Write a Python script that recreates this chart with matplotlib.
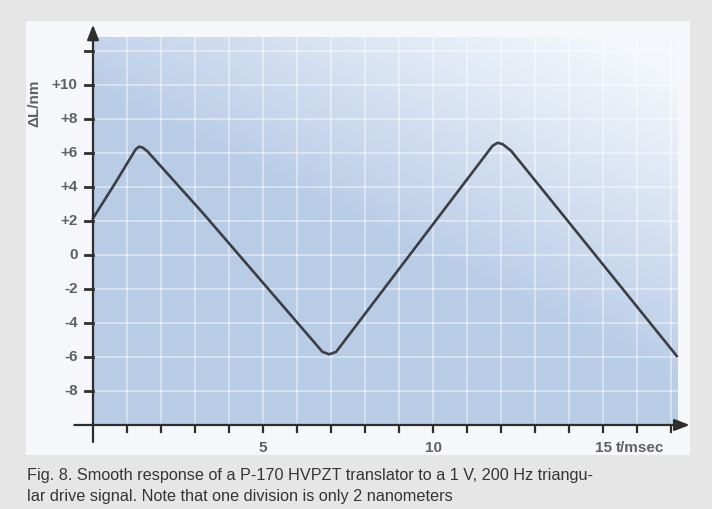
import numpy as np
import matplotlib
matplotlib.use("Agg")
import matplotlib.pyplot as plt
from matplotlib.patches import Rectangle

# ---- data ----
t_ms = [0.0, 0.65, 1.25, 1.35, 1.45, 1.6, 3.24, 6.75, 6.95, 7.15,
        11.75, 11.9, 12.05, 12.3, 13.34, 17.17]
dl_nm = [2.16, 4.22, 6.2, 6.37, 6.33, 6.1, 2.45, -5.7, -5.84, -5.7,
         6.42, 6.6, 6.52, 6.12, 3.55, -5.94]

y_ticks = [-8, -6, -4, -2, 0, 2, 4, 6, 8, 10, 12]
y_tick_labels = ["-8", "-6", "-4", "-2", "0", "+2", "+4", "+6", "+8", "+10", ""]
x_ticks = list(range(1, 18))
x_label_pos = [5, 10, 15]
x_label_txt = ["5", "10", "15"]
caption = ("Fig. 8. Smooth response of a P-170 HVPZT translator to a 1 V, 200 Hz triangu-\n"
           "lar drive signal. Note that one division is only 2 nanometers")

W, H = 712, 509
fig = plt.figure(figsize=(W / 100, H / 100), dpi=100, facecolor="#e6e6e6")

# white panel
fig.patches.append(Rectangle((26 / W, 1 - 455 / H), (690 - 26) / W, (455 - 21) / H,
                             transform=fig.transFigure, facecolor="#f5f7fa",
                             edgecolor="none", zorder=-5))

# axes mapping: x 0..17.2 -> px 93..677.8 ; y -10..12.8 -> px 425..37.4
x0, x1 = 0.0, 17.2
y0, y1 = -10.0, 12.8
px_l, px_r = 93, 93 + 34 * (x1 - x0)
py_b, py_t = 425, 425 - 17 * (y1 - y0)
ax = fig.add_axes([px_l / W, 1 - py_b / H, (px_r - px_l) / W, (py_b - py_t) / H])
ax.set_zorder(2)
ax.set_xlim(x0, x1)
ax.set_ylim(y0, y1)
ax.set_axis_off()

# blue gradient background
nx, ny = 300, 300
u = np.linspace(0, 1, nx)[None, :]
v = np.linspace(0, 1, ny)[:, None]
t = np.clip((0.75 * u + 1.0 * v - 0.85) / 0.8, 0, 1)
blue = np.array([0.725, 0.800, 0.905])
white = np.array([0.955, 0.970, 0.990])
img = blue[None, None, :] * (1 - t[..., None]) + white[None, None, :] * t[..., None]
ax.imshow(img, extent=[x0, x1, y0, y1], origin="lower", aspect="auto", zorder=0)

# grid
for xv in x_ticks:
    ax.plot([xv, xv], [y0, y1], color="white", lw=1.3, alpha=0.45, zorder=1)
for yv in y_ticks:
    ax.plot([x0, x1], [yv, yv], color="white", lw=1.3, alpha=0.45, zorder=1)

axc = "#2e2e2e"
# axes with arrows
ax.annotate("", xy=(0, 13.55), xytext=(0, -11.0),
            arrowprops=dict(arrowstyle="-|>,head_length=0.9,head_width=0.35",
                            color=axc, lw=1.6, shrinkA=0, shrinkB=0),
            annotation_clip=False, zorder=5)
ax.annotate("", xy=(17.55, -10), xytext=(-0.55, -10),
            arrowprops=dict(arrowstyle="-|>,head_length=0.9,head_width=0.35",
                            color=axc, lw=1.6, shrinkA=0, shrinkB=0),
            annotation_clip=False, zorder=5)

# ticks
for yv in y_ticks:
    ax.plot([-0.23, 0], [yv, yv], color=axc, lw=2.0, clip_on=False, zorder=5)
for xv in x_ticks:
    ax.plot([xv, xv], [-10, -10.42], color=axc, lw=1.6, clip_on=False, zorder=5)

lab_font = dict(family=["Liberation Sans", "DejaVu Sans"], fontsize=11, color="#606060",
                fontweight="bold")
for yv, lb in zip(y_ticks, y_tick_labels):
    if lb:
        ax.text(-0.45, yv, lb, ha="right", va="center", clip_on=False, **lab_font)
for xv, lb in zip(x_label_pos, x_label_txt):
    ax.text(xv, -11.35, lb, ha="center", va="center", clip_on=False, **lab_font)
ax.text(15.38, -11.35, "t/msec", ha="left", va="center", clip_on=False, **lab_font)
ax.text(-1.72, 8.9, "ΔL/nm", rotation=90, ha="center", va="center", clip_on=False,
        **lab_font)

# curve
ax.plot(t_ms, dl_nm, color="#3c3e44", lw=1.9, solid_joinstyle="round", zorder=4,
        clip_on=False)

# caption
fig.text(27 / W, 1 - 486 / H, caption, ha="left", va="center", fontsize=11.7,
         color="#353535", family=["Liberation Sans", "DejaVu Sans"],
         linespacing=1.45)

fig.savefig("out.png", dpi=100, facecolor=fig.get_facecolor())
